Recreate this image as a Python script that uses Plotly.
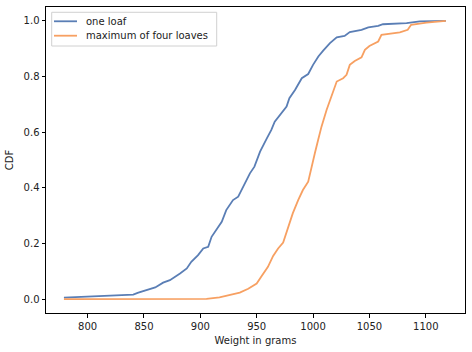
import plotly.graph_objects as go

one_w = [779, 840.5, 845, 852, 860, 867, 873, 882, 888, 892, 898, 902.6, 907, 910, 914, 919, 923, 929, 933.6, 938, 944, 948, 953, 959, 963, 966, 972, 976.5, 979, 984, 990, 995.7, 1000, 1004.7, 1009, 1015, 1021, 1028, 1032.6, 1043, 1049, 1057.8, 1062, 1083, 1094.7, 1117.8]
one_cdf = [0.005, 0.016, 0.023, 0.032, 0.042, 0.059, 0.068, 0.092, 0.110, 0.134, 0.158, 0.182, 0.188, 0.224, 0.248, 0.278, 0.320, 0.356, 0.368, 0.404, 0.452, 0.476, 0.530, 0.578, 0.608, 0.638, 0.668, 0.692, 0.722, 0.752, 0.794, 0.809, 0.842, 0.872, 0.893, 0.920, 0.941, 0.946, 0.960, 0.968, 0.977, 0.982, 0.988, 0.992, 0.998, 1.0]

max_w = [779, 905.5, 917, 927.7, 935, 942.5, 950, 954, 960, 964.6, 969, 973.5, 978, 982, 986.8, 991, 995.7, 998.6, 1001.6, 1004.5, 1007.5, 1012, 1016, 1021, 1026.7, 1029.7, 1032.6, 1037, 1043, 1046, 1050, 1057.8, 1060.7, 1077, 1084, 1087, 1100.6, 1117.8]
max_cdf = [0.0, 0.001, 0.006, 0.017, 0.023, 0.037, 0.056, 0.080, 0.116, 0.155, 0.182, 0.203, 0.260, 0.308, 0.356, 0.392, 0.422, 0.476, 0.524, 0.572, 0.620, 0.680, 0.728, 0.782, 0.794, 0.806, 0.842, 0.856, 0.869, 0.896, 0.910, 0.926, 0.950, 0.959, 0.968, 0.986, 0.994, 1.0]

x_ticks = [800, 850, 900, 950, 1000, 1050, 1100]
y_ticks = [0.0, 0.2, 0.4, 0.6, 0.8, 1.0]

names = ["one loaf", "maximum of four loaves"]
colors = ["#5a7eb5", "#f7a062"]

fig = go.Figure()
fig.add_trace(go.Scatter(x=one_w, y=one_cdf, mode="lines", name=names[0],
                         line=dict(color=colors[0], width=1.8), showlegend=False))
fig.add_trace(go.Scatter(x=max_w, y=max_cdf, mode="lines", name=names[1],
                         line=dict(color=colors[1], width=1.8), showlegend=False))

axis_common = dict(showline=True, linecolor="black", linewidth=1, mirror=True,
                   ticks="outside", ticklen=3.5, tickcolor="black", showgrid=False,
                   zeroline=False, tickfont=dict(family="DejaVu Sans", size=10, color="#222"))

# manual legend (matplotlib-style), in paper coordinates of the plot area
shapes = [dict(type="rect", xref="paper", yref="paper", x0=0.0136, x1=0.4074,
               y0=0.8725, y1=0.9827, line=dict(color="#d0d0d0", width=1),
               fillcolor="rgba(255,255,255,0.8)", layer="above")]
annotations = []
for i, (nm, col) in enumerate(zip(names, colors)):
    yy = [0.9533, 0.9062][i]
    shapes.append(dict(type="line", xref="paper", yref="paper", x0=0.0191, x1=0.074,
                       y0=yy, y1=yy, line=dict(color=col, width=1.8), layer="above"))
    annotations.append(dict(xref="paper", yref="paper", x=0.0907, y=yy, text=nm,
                            showarrow=False, xanchor="left", yanchor="middle",
                            font=dict(family="DejaVu Sans", size=10, color="#222")))

fig.update_layout(
    width=472, height=352,
    margin=dict(l=46, r=7, t=7, b=39),
    paper_bgcolor="white", plot_bgcolor="white",
    font=dict(family="DejaVu Sans", size=10, color="#222"),
    xaxis=dict(range=[763.1, 1134.8], tickvals=x_ticks,
               title=dict(text="Weight in grams", font=dict(size=10), standoff=6),
               **axis_common),
    yaxis=dict(range=[-0.05, 1.05], tickvals=y_ticks, tickformat=".1f",
               title=dict(text="CDF", font=dict(size=10), standoff=8),
               **axis_common),
    shapes=shapes, annotations=annotations,
    showlegend=False,
)

fig.write_html("out.html")
